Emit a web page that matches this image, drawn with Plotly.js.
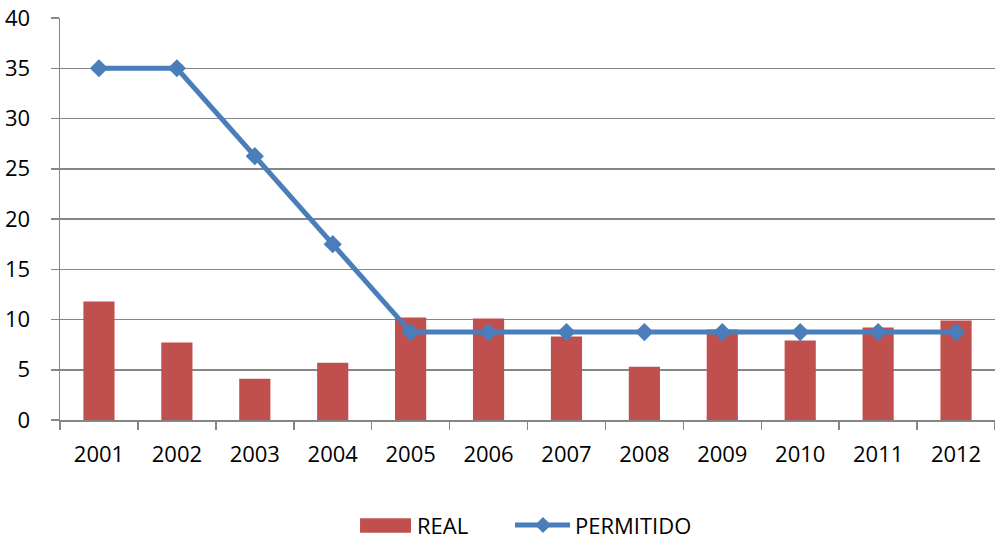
<!DOCTYPE html>
<html>
<head>
<meta charset="utf-8">
<script src="https://cdn.plot.ly/plotly-3.0.1.min.js"></script>
<style>html,body{margin:0;padding:0;background:#fff;}#chart{width:995px;height:539px;}</style>
</head>
<body>
<div id="chart"></div>
<script>
var years = ['2001','2002','2003','2004','2005','2006','2007','2008','2009','2010','2011','2012'];
var real = [11.8, 7.7, 4.1, 5.7, 10.2, 10.1, 8.3, 5.3, 9.0, 7.9, 9.2, 9.9];
var permitido = [35, 35, 26.25, 17.5, 8.75, 8.75, 8.75, 8.75, 8.75, 8.75, 8.75, 8.75];
var yTicks = [0, 5, 10, 15, 20, 25, 30, 35, 40];

var FONT = 'Open Sans, sans-serif';
var GRID = '#868686';
var RED = '#c0504d';
var BLUE = '#4a7ebb';

var traces = [
  {type: 'bar', name: 'REAL', x: years, y: real, marker: {color: RED}, hoverinfo: 'x+y'},
  {type: 'scatter', mode: 'lines+markers', name: 'PERMITIDO', x: years, y: permitido,
   line: {color: BLUE, width: 5}, marker: {symbol: 'diamond', size: 14, color: BLUE}}
];

// custom legend geometry (paper coords)
var ly = -0.2612;
var shapes = [
  {type: 'rect', xref: 'paper', yref: 'paper', x0: 0.3209, x1: 0.3754, y0: -0.2445, y1: -0.2803,
   fillcolor: RED, line: {width: 0}},
  {type: 'line', xref: 'paper', yref: 'paper', x0: 0.4866, x1: 0.5455, y0: ly, y1: ly,
   line: {color: BLUE, width: 5}},
  {type: 'path', xref: 'paper', yref: 'paper',
   path: 'M 0.5166,' + (ly + 0.0199) + ' L 0.5252,' + ly + ' L 0.5166,' + (ly - 0.0199) + ' L 0.5080,' + ly + ' Z',
   fillcolor: BLUE, line: {width: 0}}
];
var annotations = [
  {xref: 'paper', yref: 'paper', x: 0.3797, y: ly, xanchor: 'left', yanchor: 'middle', text: 'REAL',
   showarrow: false, font: {family: FONT, size: 22, color: '#000'}},
  {xref: 'paper', yref: 'paper', x: 0.5487, y: ly, xanchor: 'left', yanchor: 'middle', text: 'PERMITIDO',
   showarrow: false, font: {family: FONT, size: 22, color: '#000'}}
];

var layout = {
  width: 995, height: 539,
  margin: {l: 60, r: 0, t: 18, b: 119, pad: 0},
  paper_bgcolor: '#fff', plot_bgcolor: '#fff',
  showlegend: false,
  bargap: 0.6,
  font: {family: FONT, size: 22, color: '#000'},
  xaxis: {
    type: 'category', range: [-0.5, 11.5], tickson: 'boundaries', ticks: 'outside', ticklen: 8, tickwidth: 1.5, tickcolor: GRID,
    showline: true, linecolor: GRID, linewidth: 1.5, showgrid: false, zeroline: false,
    tickfont: {family: FONT, size: 22, color: '#000'}, ticklabelstandoff: 14, fixedrange: true
  },
  yaxis: {
    range: [0, 40], tickvals: yTicks, ticktext: yTicks.map(String), ticks: 'outside', ticklen: 8, tickwidth: 1.5,
    tickcolor: GRID, showline: true, linecolor: GRID, linewidth: 1.5, showgrid: true, gridcolor: GRID,
    gridwidth: 1.5, zeroline: false, tickfont: {family: FONT, size: 22, color: '#000'},
    ticklabelstandoff: 16, fixedrange: true
  },
  shapes: shapes,
  annotations: annotations
};

Plotly.newPlot('chart', traces, layout, {displayModeBar: false, staticPlot: true});
</script>
</body>
</html>
